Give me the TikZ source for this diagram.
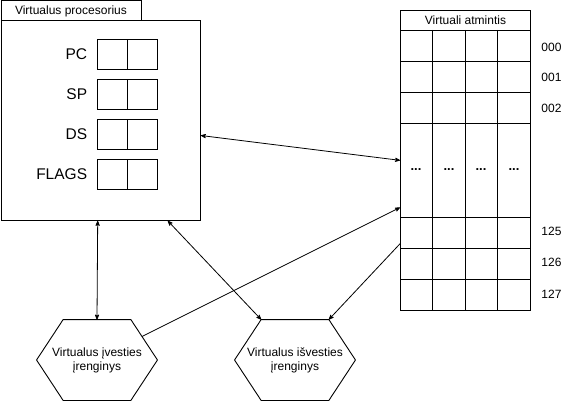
\documentclass[tikz,border=0pt]{standalone}
\usepackage{fontspec}
\setmainfont{Liberation Sans}
\usetikzlibrary{positioning}
\usetikzlibrary{arrows}
\usetikzlibrary{calc}

% hexagon outline round a named node
\newcommand{\hexframe}[1]{%
  \draw (#1.west) -- ($(#1.north west)!0.22!(#1.north east)$)
    -- ($(#1.north east)!0.22!(#1.north west)$) -- (#1.east)
    -- ($(#1.south east)!0.22!(#1.south west)$)
    -- ($(#1.south west)!0.22!(#1.south east)$) -- cycle;}

\begin{document}
\begin{tikzpicture} [x=1pt, y=-1pt, >=stealth', line width=0.9pt,
            font=\fontsize{12}{14}\selectfont]

            \tikzstyle{frame} = [draw, rectangle, inner sep=0pt, anchor=north west]
            \tikzstyle{cell} = [draw, rectangle, minimum width=30, minimum height=30, inner sep=0pt]
            \tikzstyle{reg} = [font=\fontsize{15.5}{18}\selectfont, inner sep=0pt]
            \tikzstyle{device} = [minimum width=120, minimum height=80, align=center, inner sep=0pt]
            \tikzstyle{addr} = [anchor=west, inner sep=0pt]
            \tikzstyle{dots} = [font=\fontsize{13}{15}\selectfont\bfseries]

            \useasboundingbox (0,0) rectangle (571,401);

            % processor
            \node[frame, minimum width=140, minimum height=20](cpu_tab) at(0.5, 0.5) {Virtualus procesorius};
            \node[frame, minimum width=199.5, minimum height=200](cpu) at(0.5, 20) {};

            \node[cell](pc_a) at(112, 54) {};
            \node[cell, right=0pt of pc_a](pc_b) {};
            \node[reg, left=9pt of pc_a](pc) {PC};
            \node[cell](sp_a) at(112, 94) {};
            \node[cell, right=0pt of sp_a](sp_b) {};
            \node[reg, left=9pt of sp_a](sp) {SP};
            \node[cell](ds_a) at(112, 134) {};
            \node[cell, right=0pt of ds_a](ds_b) {};
            \node[reg, left=9pt of ds_a](ds) {DS};
            \node[cell](flags_a) at(112, 174) {};
            \node[cell, right=0pt of flags_a](flags_b) {};
            \node[reg, left=9pt of flags_a](flags) {FLAGS};

            % memory
            \node[frame, minimum width=130, minimum height=20](mem_head) at(400, 10) {Virtuali atmintis};
            \node[frame, minimum width=130, minimum height=280](mem) at(400, 30) {};
            \draw (432.5, 30) -- (432.5, 310)
                (465, 30) -- (465, 310)
                (497.5, 30) -- (497.5, 310)
                (400, 61) -- (530, 61)
                (400, 92) -- (530, 92)
                (400, 123) -- (530, 123)
                (400, 217) -- (530, 217)
                (400, 248) -- (530, 248)
                (400, 279) -- (530, 279);
            \node[dots](dots_1) at(416, 170) {...};
            \node[dots](dots_2) at(449, 170) {...};
            \node[dots](dots_3) at(481, 170) {...};
            \node[dots](dots_4) at(514, 170) {...};
            \node[addr](a000) at(541, 47) {000};
            \node[addr](a001) at(541, 77) {001};
            \node[addr](a002) at(541, 108) {002};
            \node[addr](a125) at(541, 231) {125};
            \node[addr](a126) at(541, 262) {126};
            \node[addr](a127) at(541, 294) {127};

            % devices
            \node[device](inp) at(97, 360) {Virtualus įvesties\\įrenginys};
            \node[device](outp) at(295, 360) {Virtualus išvesties\\įrenginys};
            \hexframe{inp}
            \hexframe{outp}

            \coordinate (cpu_r) at ($(cpu.north east)!0.575!(cpu.south east)$);
            \coordinate (cpu_b1) at ($(cpu.south west)!0.485!(cpu.south east)$);
            \coordinate (cpu_b2) at ($(cpu.south west)!0.835!(cpu.south east)$);
            \coordinate (mem_l1) at ($(mem.north west)!0.464!(mem.south west)$);
            \coordinate (mem_l2) at ($(mem.north west)!0.632!(mem.south west)$);
            \coordinate (mem_l3) at ($(mem.north west)!0.761!(mem.south west)$);
            \coordinate (inp_r) at ($(inp.north east)!0.22!(inp.north west)!0.42!(inp.east)$);
            \coordinate (outp_l) at ($(outp.north west)!0.22!(outp.north east)$);
            \coordinate (outp_r) at ($(outp.north east)!0.22!(outp.north west)$);

            \path[line width=0.8pt] (cpu_r) edge[<->] (mem_l1)
                (cpu_b1) edge[<->] (inp.north)
                (cpu_b2) edge[<->] (outp_l)
                (inp_r) edge[->] (mem_l2)
                (mem_l3) edge[->] (outp_r)
            ;
\end{tikzpicture}
\end{document}
